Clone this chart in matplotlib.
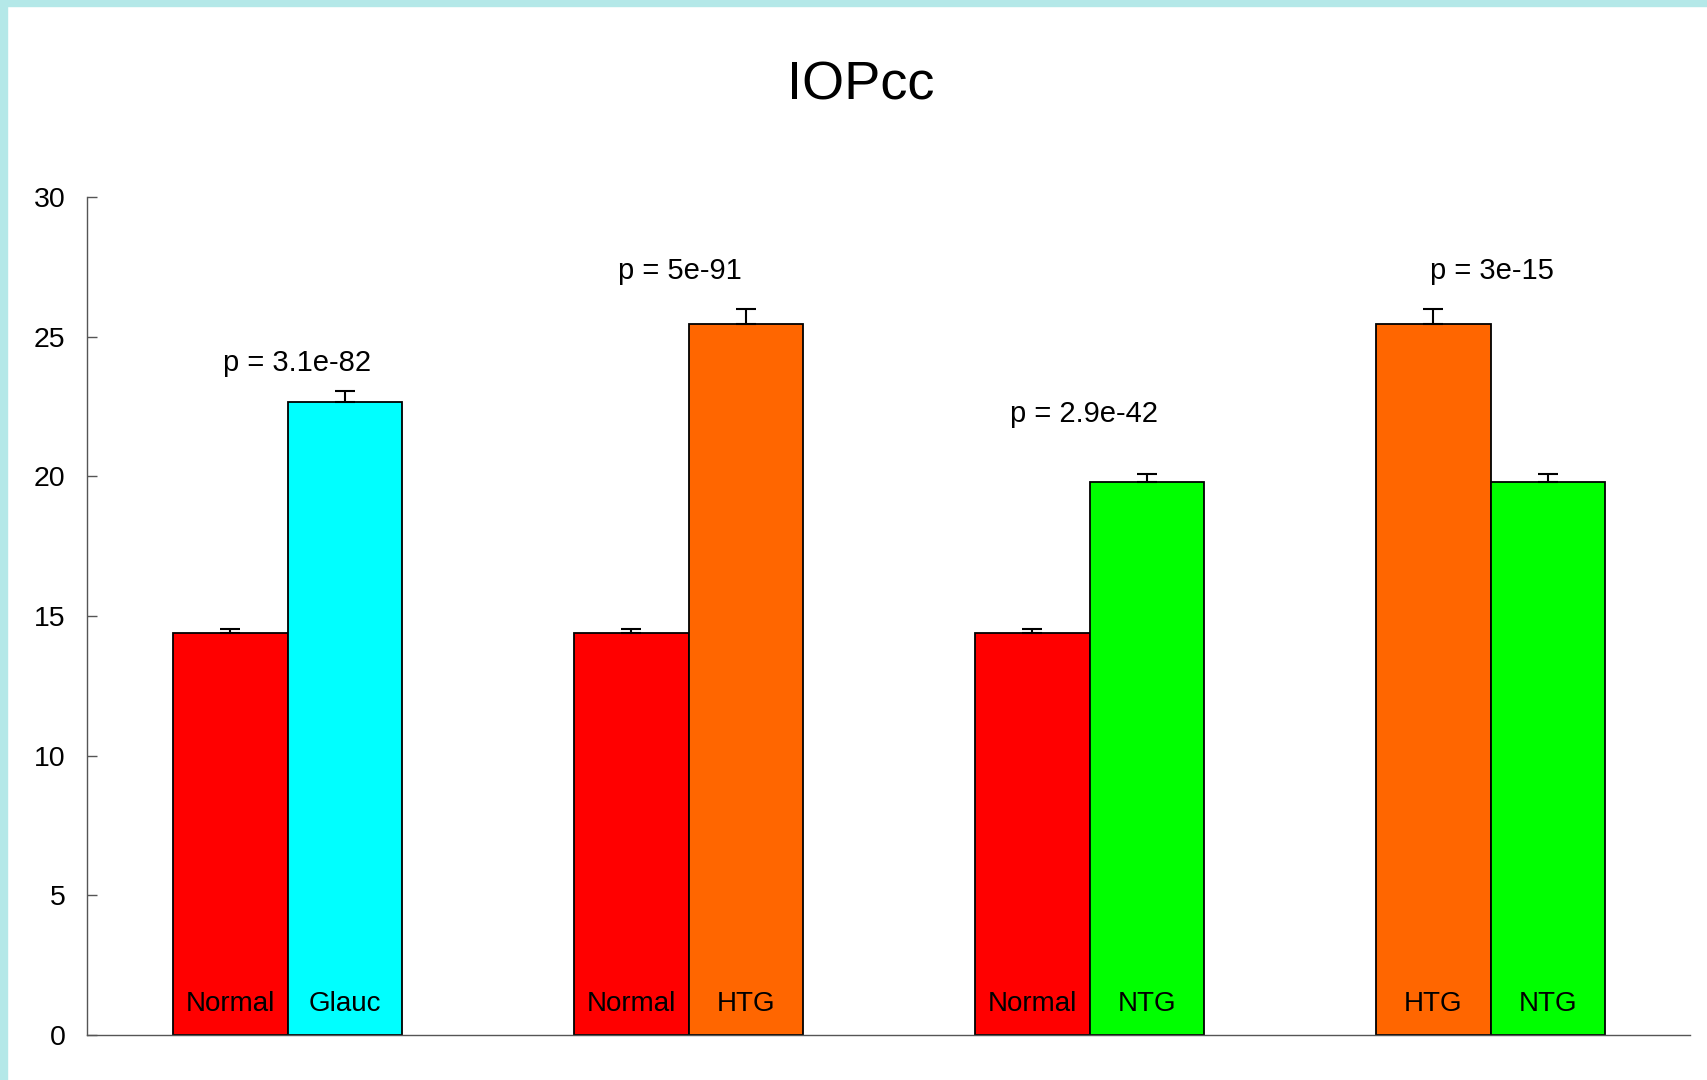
import numpy as np
import matplotlib.pyplot as plt
from matplotlib.patches import Rectangle

plt.rcParams['font.family'] = ['Liberation Sans', 'DejaVu Sans']

# data
left_names = ['Normal', 'Normal', 'Normal', 'HTG']
right_names = ['Glauc', 'HTG', 'NTG', 'NTG']
left_vals = [14.4, 14.4, 14.4, 25.45]
right_vals = [22.65, 25.45, 19.8, 19.8]
left_err = [0.15, 0.15, 0.15, 0.55]
right_err = [0.4, 0.55, 0.3, 0.3]
pvals = ['p = 3.1e-82', 'p = 5e-91', 'p = 2.9e-42', 'p = 3e-15']
p_y = [23.77, 27.07, 21.95, 27.07]       # baseline of the p labels
p_dx = [0.08, -0.08, -0.05, 0.01]        # shift from group centre
colors = {'Normal': '#ff0000', 'Glauc': '#00ffff', 'HTG': '#ff6600', 'NTG': '#00ff00'}

fig = plt.figure(figsize=(17.07, 10.8), dpi=100)
# light cyan frame on top and left
fig.patches.append(Rectangle((0, 1 - 6 / 1080), 1, 6 / 1080, transform=fig.transFigure,
                             color='#b4e8e8', zorder=0))
fig.patches.append(Rectangle((0, 0), 7 / 1707, 1, transform=fig.transFigure,
                             color='#b4e8e8', zorder=0))

ax = fig.add_axes([87 / 1707, 1 - 1035 / 1080, (1690 - 87) / 1707, (1035 - 197) / 1080])

gpos = np.arange(4) * 3.5
xl = gpos + 0.5
xr = gpos + 1.5

ax.bar(xl, left_vals, width=1, color=[colors[n] for n in left_names],
       edgecolor='black', linewidth=1.3, zorder=2)
ax.bar(xr, right_vals, width=1, color=[colors[n] for n in right_names],
       edgecolor='black', linewidth=1.3, zorder=2)
ax.errorbar(xl, left_vals, yerr=[np.zeros(4), left_err], fmt='none', ecolor='black',
            elinewidth=1.5, capsize=7, capthick=1.5, zorder=3)
ax.errorbar(xr, right_vals, yerr=[np.zeros(4), right_err], fmt='none', ecolor='black',
            elinewidth=1.5, capsize=7, capthick=1.5, zorder=3)

for i in range(4):
    ax.text(xl[i], 0.86, left_names[i], ha='center', va='baseline', fontsize=20, zorder=4)
    ax.text(xr[i], 0.86, right_names[i], ha='center', va='baseline', fontsize=20, zorder=4)
    ax.text(gpos[i] + 1 + p_dx[i], p_y[i], pvals[i], ha='center', va='baseline', fontsize=21)

ax.set_xlim(-0.75, gpos[-1] + 2.74)
ax.set_ylim(0, 30)
ax.set_yticks(np.arange(0, 31, 5))
ax.set_xticks([])
ax.tick_params(axis='y', direction='in', length=7, width=1, color='#555555',
               labelsize=20.5, pad=15.5)
for s in ['top', 'right']:
    ax.spines[s].set_visible(False)
for s in ['left', 'bottom']:
    ax.spines[s].set_color('#555555')
    ax.spines[s].set_linewidth(1)

fig.text(861 / 1707, 1 - 99 / 1080, 'IOPcc', ha='center', va='baseline', fontsize=39)

fig.savefig('out.png', dpi=100)
